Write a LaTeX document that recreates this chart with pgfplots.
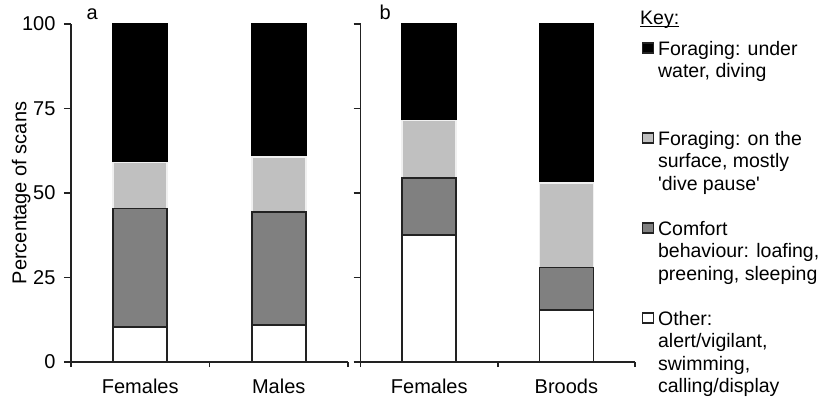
\documentclass[border=0pt]{standalone}
\usepackage{fontspec}
\setmainfont{Liberation Sans}
\usepackage{pgfplots}
\pgfplotsset{compat=1.18}
\definecolor{lgray}{HTML}{C0C0C0}
\definecolor{dgray}{HTML}{808080}
\definecolor{axcol}{HTML}{222222}

\pgfplotsset{
  panel/.style={
    scale only axis, width=277bp, height=338bp,
    xmin=0, xmax=2, ymin=0, ymax=100,
    axis x line*=bottom, axis y line*=left,
    axis line style={axcol, line width=1.4bp},
    ytick={0,25,50,75,100},
    xtick={0.5,1.5},
    minor xtick={0,1,2},
    tick align=outside,
    major tick length=7bp, minor tick length=5bp,
    tick style={axcol, line width=1.4bp},
    major x tick style={draw=none},
    tick label style={font=\fontsize{20bp}{24bp}\selectfont},
    yticklabel style={xshift=-5bp},
    xticklabel style={yshift=-6bp},
    /pgf/number format/assume math mode=true,
    ybar stacked, bar width=54bp,
    title style={font=\fontsize{20bp}{24bp}\selectfont, anchor=base west},
  },
  sq/.style={legend image code/.code={\draw[##1, line width=1.1bp, draw=axcol] (0bp,2bp) rectangle (11.5bp,12bp);}},
}

\begin{document}
\begin{tikzpicture}
\useasboundingbox (0,0) rectangle (819bp,399bp);
% panel a
\begin{axis}[panel, at={(71bp,37bp)}, anchor=south west,
  xticklabels={Females,Males},
  ylabel={Percentage of scans},
  ylabel style={font=\fontsize{20bp}{24bp}\selectfont, at={(axis description cs:-0.18,0.5)}, anchor=center},
  title={a}, title style={at={(axis description cs:0.044,1)}, yshift=-1bp},
]
\addplot[fill=white, draw=axcol, line width=1.6bp] coordinates {(0.5,10.4) (1.5,10.9)};
\addplot[fill=dgray, draw=axcol, line width=1.6bp] coordinates {(0.5,35.0) (1.5,33.5)};
\addplot[fill=lgray, draw=gray!12, line width=1.6bp] coordinates {(0.5,13.6) (1.5,16.3)};
\addplot[fill=black, draw=black, line width=1.6bp] coordinates {(0.5,41.0) (1.5,39.3)};
\end{axis}
% panel b
\begin{axis}[panel, at={(360.7bp,37bp)}, anchor=south west, width=274.3bp,
  clip=false,
  xticklabels={Females,Broods},
  yticklabels={},
  title={b}, title style={at={(axis description cs:0.056,1)}, yshift=-1bp},
  reverse legend,
  legend style={draw=none, fill=none, inner sep=0pt, outer sep=0pt,
    at={(axis description cs:1,1)}, anchor=north west, xshift=6.5bp, yshift=-16bp,
    column sep=4bp, row sep=2.5bp, cells={anchor=base west},
    nodes={inner sep=0pt, text height=15bp, text depth=5bp},
    font=\fontsize{19.5bp}{23bp}\selectfont},
]
\addlegendimage{empty legend}\addlegendentry{calling/display}
\addlegendimage{empty legend}\addlegendentry{swimming,}
\addlegendimage{empty legend}\addlegendentry{alert/vigilant,}
\addplot[fill=white, draw=axcol, line width=1.6bp, sq] coordinates {(0.5,37.6) (1.5,15.4)};
\addlegendentry{Other:}
\addlegendimage{empty legend}\addlegendentry{\mbox{}}
\addlegendimage{empty legend}\addlegendentry{preening, sleeping}
\addlegendimage{empty legend}\addlegendentry{behaviour: loafing,}
\addplot[fill=dgray, draw=axcol, line width=1.6bp, sq] coordinates {(0.5,16.9) (1.5,12.5)};
\addlegendentry{Comfort}
\addlegendimage{empty legend}\addlegendentry{\mbox{}}
\addlegendimage{empty legend}\addlegendentry{\textquotesingle dive pause\textquotesingle}
\addlegendimage{empty legend}\addlegendentry{surface, mostly}
\addplot[fill=lgray, draw=gray!12, line width=1.6bp, sq] coordinates {(0.5,16.9) (1.5,25.1)};
\addlegendentry{Foraging: on the}
\addlegendimage{empty legend}\addlegendentry{\mbox{}}
\addlegendimage{empty legend}\addlegendentry{\mbox{}}
\addlegendimage{empty legend}\addlegendentry{water, diving}
\addplot[fill=black, draw=black, line width=1.6bp, sq] coordinates {(0.5,28.6) (1.5,47.0)};
\addlegendentry{Foraging: under}
\node[anchor=base west, inner sep=0pt, font=\fontsize{19.5bp}{23bp}\selectfont]
  at (axis description cs:1,1) [xshift=5bp, yshift=-1bp]
  {\rlap{\rule[-2.5bp]{39bp}{1.2bp}}Key:};
\end{axis}
\end{tikzpicture}
\end{document}
